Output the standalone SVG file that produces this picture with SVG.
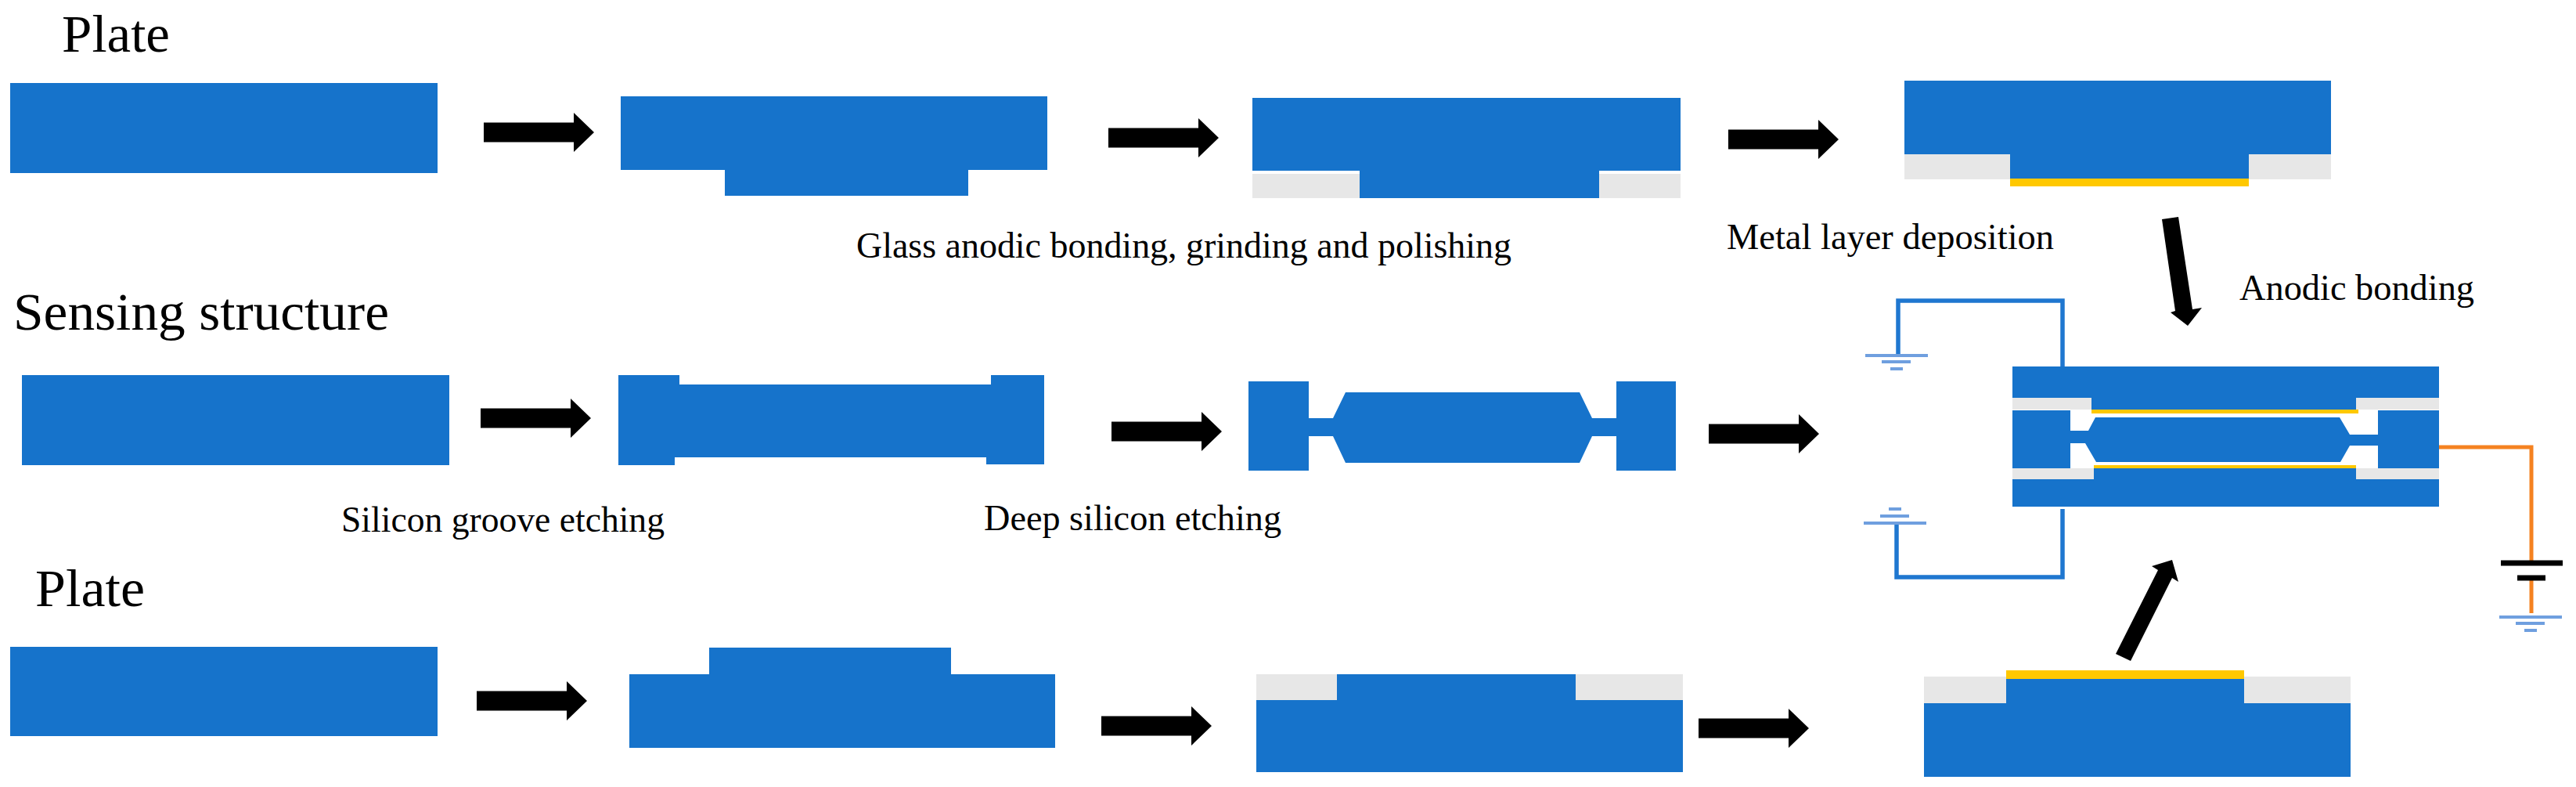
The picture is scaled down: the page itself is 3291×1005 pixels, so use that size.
<svg xmlns="http://www.w3.org/2000/svg" xmlns:xlink="http://www.w3.org/1999/xlink" width="3291" height="1005" viewBox="0 0 3291 1005">
<style>
.si{fill:#1673CB}
.gl{fill:#E7E7E7}
.au{fill:#FFC800}
.lb{font-family:"Liberation Serif","Times New Roman",serif;fill:#000;font-size:46px}
.hd{font-family:"Liberation Serif","Times New Roman",serif;fill:#000;font-size:68px}
.wb{fill:none;stroke:#1F77D0;stroke-width:5.5}
.wo{fill:none;stroke:#F58220;stroke-width:5}
.gd{fill:none;stroke:#6F9FDF;stroke-width:4}
.bt{fill:none;stroke:#000;stroke-width:7}
</style>
<defs>
<polygon id="arrow" points="0,-12.5 115,-12.5 115,-25 141,0 115,25 115,12.5 0,12.5" fill="#000"/>
<g id="g-down"><path class="gd" d="M-40 0H40M-19 8H18M-8 17H8"/></g>
<g id="g-up"><path class="gd" d="M-40 0H40M-19 -9H18M-8 -18H8"/></g>
</defs>
<rect width="3291" height="1005" fill="#fff"/>
<g id="labels">
<text class="hd" x="79" y="66" textLength="138" lengthAdjust="spacingAndGlyphs">Plate</text>
<text class="hd" x="17" y="421" textLength="480" lengthAdjust="spacingAndGlyphs">Sensing structure</text>
<text class="hd" x="45" y="774" textLength="140" lengthAdjust="spacingAndGlyphs">Plate</text>
<text class="lb" x="1094" y="329" textLength="837" lengthAdjust="spacingAndGlyphs">Glass anodic bonding, grinding and polishing</text>
<text class="lb" x="2206" y="318" textLength="418" lengthAdjust="spacingAndGlyphs">Metal layer deposition</text>
<text class="lb" x="2861" y="383" textLength="300" lengthAdjust="spacingAndGlyphs">Anodic bonding</text>
<text class="lb" x="436" y="679" textLength="413" lengthAdjust="spacingAndGlyphs">Silicon groove etching</text>
<text class="lb" x="1257" y="677" textLength="380" lengthAdjust="spacingAndGlyphs">Deep silicon etching</text>
</g>
<g id="top-1"><rect class="si" x="13" y="106" width="546" height="115"/></g>
<g id="top-2"><polygon class="si" points="793,123 1338,123 1338,217 1237,217 1237,250 926,250 926,217 793,217"/></g>
<g id="top-3">
<rect class="gl" x="1600" y="222" width="137" height="31"/><rect class="gl" x="2043" y="222" width="104" height="31"/>
<polygon class="si" points="1600,125 2147,125 2147,218 2043,218 2043,253 1737,253 1737,218 1600,218"/>
</g>
<g id="top-4">
<rect class="gl" x="2433" y="197" width="135" height="32"/><rect class="gl" x="2873" y="197" width="105" height="32"/>
<polygon class="si" points="2433,103 2978,103 2978,197 2873,197 2873,228 2568,228 2568,197 2433,197"/>
<rect class="au" x="2568" y="228" width="305" height="10"/>
</g>
<g id="mid-1"><rect class="si" x="28" y="479" width="546" height="115"/></g>
<g id="mid-2"><polygon class="si" points="790,479 868,479 868,491 1266,491 1266,479 1334,479 1334,593 1260,593 1260,584 862,584 862,594 790,594"/></g>
<g id="mid-3"><polygon class="si" points="1595,487 1672,487 1672,534 1703,534 1719,501 2018,501 2034,534 2065,534 2065,487 2141,487 2141,601 2065,601 2065,557 2034,557 2018,591 1719,591 1703,557 1672,557 1672,601 1595,601"/></g>
<g id="bot-1"><rect class="si" x="13" y="826" width="546" height="114"/></g>
<g id="bot-2"><polygon class="si" points="906,827 1215,827 1215,861 1348,861 1348,955 804,955 804,861 906,861"/></g>
<g id="bot-3">
<rect class="gl" x="1605" y="861" width="103" height="33"/><rect class="gl" x="2013" y="861" width="137" height="33"/>
<polygon class="si" points="1708,861 2013,861 2013,894 2150,894 2150,986 1605,986 1605,894 1708,894"/>
</g>
<g id="bot-4">
<rect class="gl" x="2458" y="864" width="105" height="34"/><rect class="gl" x="2867" y="864" width="136" height="34"/>
<polygon class="si" points="2563,867 2867,867 2867,898 3003,898 3003,992 2458,992 2458,898 2563,898"/>
<rect class="au" x="2563" y="856" width="304" height="11"/>
</g>
<g id="assembly">
<rect class="gl" x="2571" y="508" width="101" height="15"/><rect class="gl" x="3010" y="508" width="106" height="15"/>
<rect class="gl" x="2571" y="598" width="104" height="14"/><rect class="gl" x="3010" y="598" width="106" height="14"/>
<polygon class="si" points="2571,468 3116,468 3116,508 3010,508 3010,523 2672,523 2672,508 2571,508"/>
<rect class="au" x="2672" y="523" width="341" height="5"/>
<polygon class="si" points="2571,524 2645,524 2645,550 2668,550 2677,533 2989,533 3002,555 3038,555 3038,524 3116,524 3116,598 3038,598 3038,569 3002,569 2990,590 2678,590 2664,566 2645,566 2645,598 2571,598"/>
<rect class="au" x="2675" y="594" width="335" height="4"/>
<polygon class="si" points="2675,598 3010,598 3010,612 3116,612 3116,647 2571,647 2571,612 2675,612"/>
</g>
<g id="connectors">
<use href="#arrow" x="618" y="169"/>
<use href="#arrow" x="1416" y="176"/>
<use href="#arrow" x="2208" y="178"/>
<use href="#arrow" x="614" y="534"/>
<use href="#arrow" x="1420" y="551"/>
<use href="#arrow" x="2183" y="554"/>
<use href="#arrow" x="609" y="895"/>
<use href="#arrow" x="1407" y="927"/>
<use href="#arrow" x="2170" y="930"/>
<polygon points="2795,416 2813,393 2801,395 2783,277 2762,280 2779,397 2773,399" fill="#000"/>
<polygon points="2775,715 2783,743 2775,738 2722,844 2703,835 2757,728 2749,723" fill="#000"/>
</g>
<g id="circuit-top"><path class="wb" d="M2425 454V384H2635V468"/><use href="#g-down" x="2423" y="454"/></g>
<g id="circuit-bottom"><path class="wb" d="M2423 668V737H2635V650"/><use href="#g-up" x="2421" y="668"/></g>
<g id="circuit-right">
<path class="wo" d="M3116 571H3234V717M3234 741V783"/>
<path class="bt" d="M3195 719H3274M3216 738H3252"/>
<use href="#g-down" x="3233" y="788"/>
</g>
</svg>
